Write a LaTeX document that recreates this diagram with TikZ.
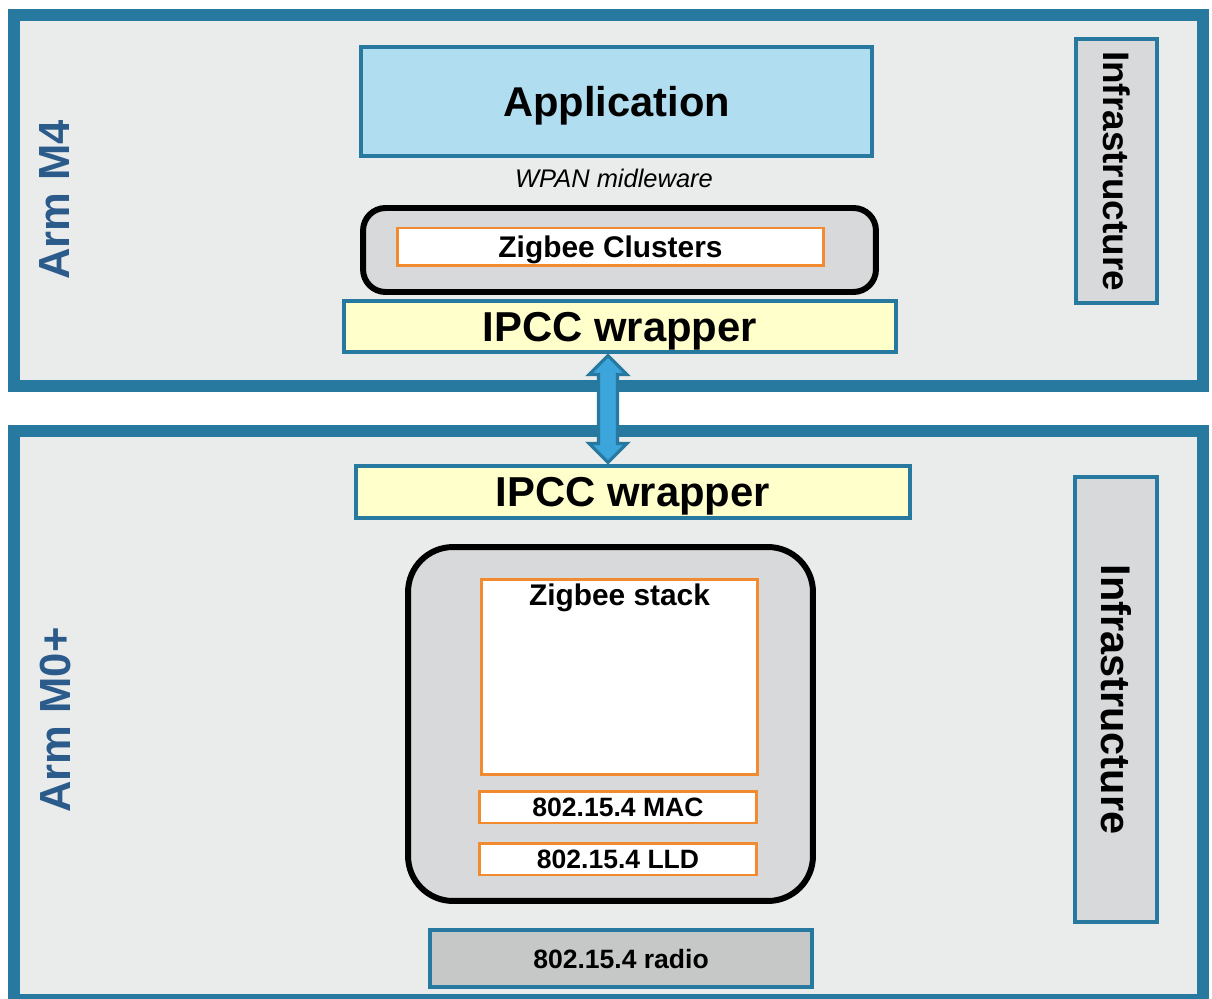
\documentclass[tikz,border=0pt]{standalone}
\usepackage{fontspec}
\setmainfont{Liberation Sans}
\usetikzlibrary{calc}

\definecolor{frameteal}{HTML}{2779A0}
\definecolor{panelgray}{HTML}{EAEBEB}
\definecolor{boxgray}{HTML}{D8D9DA}
\definecolor{radiogray}{HTML}{C6C7C7}
\definecolor{appblue}{HTML}{B1DDF1}
\definecolor{wrapyellow}{HTML}{FFFFCC}
\definecolor{layerorange}{HTML}{F28A30}
\definecolor{arrowblue}{HTML}{3BA5DC}
\definecolor{coretext}{HTML}{2B5B8A}

\tikzset{
  panel/.style={draw=frameteal, fill=panelgray, line width=6.8pt, inner sep=0pt},
  tealbox/.style={draw=frameteal, line width=1.8pt, inner sep=0pt, text depth=0pt},
  layer/.style={draw=layerorange, fill=white, line width=1.7pt, inner sep=0pt, text depth=0pt},
  stackbox/.style={draw=black, fill=boxgray, line width=3.4pt, inner sep=0pt},
  corelabel/.style={rotate=90, text=coretext, font=\bfseries\fontsize{24.8}{28}\selectfont},
  infralabel/.style={rotate=-90, font=\bfseries},
  bigarrow/.style={draw=frameteal, fill=arrowblue, line width=1.8pt},
}

\begin{document}
\begin{tikzpicture}[x=0.02cm, y=-0.02cm]
  \useasboundingbox (0,0) rectangle (1212,999);

  % the two cores
  \node[panel, minimum width=23.78cm, minimum height=7.42cm] (m4) at (608.5,200.5) {};
  \node[panel, minimum width=23.78cm, minimum height=11.38cm] (m0) at (608.5,715.5) {};
  \node[corelabel] (m4lbl) at (55,200) {Arm M4};
  \node[corelabel] (m0lbl) at (55,720) {Arm M0+};

  % Arm M4 side
  \node[tealbox, fill=appblue, minimum width=10.22cm, minimum height=2.18cm,
        font=\bfseries\fontsize{23.7}{28}\selectfont] (app) at (616.5,101.5) {Application};
  \node[font=\itshape\fontsize{14.5}{17}\selectfont] (wpan) at (614,178) {WPAN midleware};
  \node[stackbox, rounded corners=0.45cm, minimum width=10.26cm, minimum height=1.68cm] (clusters) at (619.5,250) {};
  \node[layer, minimum width=8.54cm, minimum height=0.76cm,
        font=\bfseries\fontsize{17}{20}\selectfont] (zcl) at (610.5,247) {Zigbee Clusters};
  \node[tealbox, fill=wrapyellow, minimum width=11.04cm, minimum height=1.02cm,
        font=\bfseries\fontsize{23.8}{28}\selectfont] (ipccA) at (620,326.5) {IPCC wrapper};
  \node[tealbox, fill=boxgray, minimum width=1.62cm, minimum height=5.28cm] (infraA) at (1116.5,171) {};
  \node[infralabel, font=\bfseries\fontsize{21}{24}\selectfont] (infraAlbl) at (infraA) {Infrastructure};

  % Arm M0+ side
  \node[tealbox, fill=wrapyellow, minimum width=11.08cm, minimum height=1.04cm,
        font=\bfseries\fontsize{23.8}{28}\selectfont] (ipccB) at (633,492) {IPCC wrapper};
  \node[stackbox, rounded corners=0.9cm, minimum width=8.1cm, minimum height=7.08cm] (stack) at (610.5,724) {};
  \node[layer, minimum width=5.54cm, minimum height=3.92cm] (zstack) at (619.5,677) {};
  \node[font=\bfseries\fontsize{17}{20}\selectfont] (zstacklbl) at (619.5,598) {Zigbee stack};
  \node[layer, minimum width=5.56cm, minimum height=0.64cm,
        font=\bfseries\fontsize{15.1}{18}\selectfont] (mac) at (618,807) {802.15.4 MAC};
  \node[layer, minimum width=5.56cm, minimum height=0.64cm,
        font=\bfseries\fontsize{15.1}{18}\selectfont] (lld) at (618,859) {802.15.4 LLD};
  \node[tealbox, fill=radiogray, minimum width=7.64cm, minimum height=1.14cm,
        font=\bfseries\fontsize{15.1}{18}\selectfont] (radio) at (621,958.5) {802.15.4 radio};
  \node[tealbox, fill=boxgray, minimum width=1.64cm, minimum height=8.9cm] (infraB) at (1116,699.5) {};
  \node[infralabel, font=\bfseries\fontsize{23.6}{27}\selectfont] (infraBlbl) at (infraB) {Infrastructure};

  % IPCC link
  \coordinate (arT) at (608,0 |- ipccA.south);
  \coordinate (arB) at (608,0 |- ipccB.north);
  \draw[bigarrow] ($(arT)+(0,2)$) -- ++(19,19) -- ++(-9.5,0) -- ($(arB)+(9.5,-21)$) -- ++(9.5,0)
    -- ($(arB)+(0,-2)$) -- ++(-19,-19) -- ++(9.5,0) -- ($(arT)+(-9.5,21)$) -- ++(-9.5,0) -- cycle;
\end{tikzpicture}
\end{document}
